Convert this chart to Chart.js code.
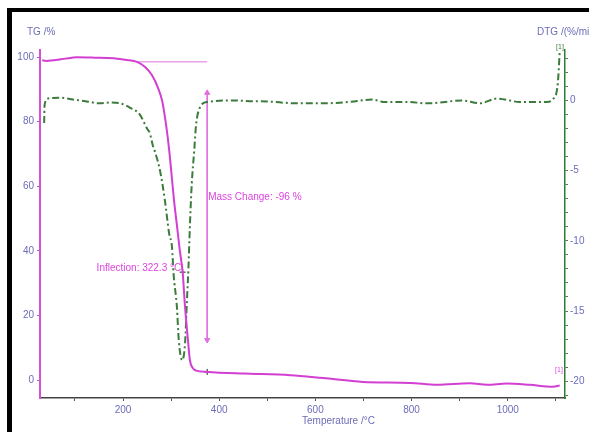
<!DOCTYPE html>
<html>
<head>
<meta charset="utf-8">
<script src="https://cdn.jsdelivr.net/npm/chart.js@4.4.0/dist/chart.umd.min.js"></script>
<style>
  body { margin: 0; background: #fff; }
  #wrap { width: 589px; height: 432px; }
</style>
</head>
<body>
<div id="wrap"><canvas id="grafico" width="589" height="432"></canvas></div>
<script>
//DATA
let tgTemp = [32, 40, 60, 80, 104, 140, 180, 208, 229, 246, 260, 273, 281, 285, 290, 296, 301, 306, 312, 318, 324, 329, 335, 339, 345, 352, 375, 450, 548, 616, 699, 797, 853, 921, 957, 998, 1046, 1094, 1108];
let tgValues = [99.0, 98.8, 99.1, 99.5, 99.9, 99.8, 99.6, 99.1, 98.5, 96.9, 94.4, 90.4, 86.7, 83.5, 78.5, 71.2, 63.5, 55.7, 48.0, 40.2, 33.4, 22.6, 12.4, 6.2, 3.7, 2.9, 2.5, 2.0, 1.5, 0.6, -0.6, -0.9, -1.5, -1.0, -1.5, -1.1, -1.5, -2.1, -1.7];

let dtgTemp = [36, 37, 44, 69, 96, 125, 152, 173, 194, 214, 235, 250, 256, 262, 266, 277, 287, 296, 302, 305, 312, 316, 323, 329, 333, 336, 339, 343, 348, 352, 360, 375, 429, 470, 499, 562, 616, 672, 718, 741, 790, 832, 907, 942, 978, 1025, 1081, 1094, 1104, 1108];
let dtgValues = [-1.6, -0.3, 0.14, 0.2, 0.07, -0.07, -0.2, -0.14, -0.2, -0.5, -1.0, -2.0, -2.35, -3.2, -3.6, -5.0, -7.1, -9.5, -10.5, -12.3, -14.7, -17.1, -18.5, -17.3, -14.2, -12.0, -9.0, -5.9, -3.6, -1.7, -0.5, -0.1, 0, -0.05, -0.07, -0.2, -0.2, -0.1, 0.07, -0.1, -0.1, -0.2, 0, -0.2, 0.14, -0.1, -0.1, 0.1, 1.2, 3.5];

let massLineTemp = [228, 375];
let massLineValue = [98.5, 98.5];
let arrowTemp = [375, 375];
let arrowValue = [88.9, 12.4];
let markerTemp = [324, 375];
let markerValue = [33.4, 2.5];

let xTickLabels = [200, 400, 600, 800, 1000];
let xMinorTicks = [100, 200, 300, 400, 500, 600, 700, 800, 900, 1000, 1100];
let tgTickLabels = [0, 20, 40, 60, 80, 100];
let dtgTickLabels = [-20, -15, -10, -5, 0];

const fuente = "'Liberation Sans', Arial, sans-serif";
const colorTexto = '#6c6cb8';
const magenta = '#d23fd2';
const verde = '#3b7b3b';

function toPoints(xs, ys) {
    return xs.map((x, i) => ({ x: x, y: ys[i] }));
}

let dtgMinorTicks = [];
for (let v = -21; v <= 3; v++) {
    dtgMinorTicks.push(v);
}

//TEXTOS Y MARCO
const decoracion = {
    id: 'decoracion',
    beforeDraw(chart) {
        const ctx = chart.ctx;
        ctx.save();
        ctx.fillStyle = '#fff';
        ctx.fillRect(0, 0, chart.width, chart.height);
        ctx.fillStyle = '#000';
        ctx.fillRect(7, 8, chart.width - 7, 4);
        ctx.fillRect(7, 8, 5, chart.height - 8);
        ctx.restore();
    },
    afterDraw(chart) {
        const ctx = chart.ctx;
        const x = chart.scales.x;
        const y = chart.scales.y;
        ctx.save();
        ctx.textBaseline = 'middle';
        ctx.font = '10px ' + fuente;
        ctx.fillStyle = colorTexto;
        ctx.textAlign = 'left';
        ctx.fillText('TG /%', 27, 32);
        ctx.fillText('DTG /(%/min)', 537, 32);
        ctx.fillText('Temperature /°C', 302, 421);

        ctx.fillStyle = '#dd44dd';
        ctx.fillText('Mass Change: -96 %', x.getPixelForValue(375) + 1, y.getPixelForValue(56.7));
        ctx.textAlign = 'right';
        ctx.fillText('Inflection: 322.3 °C', x.getPixelForValue(321), y.getPixelForValue(34.6));

        ctx.font = '7px ' + fuente;
        ctx.textAlign = 'center';
        ctx.fillStyle = verde;
        ctx.fillText('[1]', 560, 47);
        ctx.fillStyle = '#dd44dd';
        ctx.fillText('[1]', 559, 370);
        ctx.restore();
    }
};

const config = {
    type: 'line',
    data: {
        datasets: [
            {
                data: toPoints(tgTemp, tgValues),
                yAxisID: 'y',
                borderColor: magenta,
                borderWidth: 2,
                pointRadius: 0,
                cubicInterpolationMode: 'monotone'
            },
            {
                data: toPoints(dtgTemp, dtgValues),
                yAxisID: 'y2',
                borderColor: verde,
                borderWidth: 2,
                borderDash: [7, 3, 2, 3],
                pointRadius: 0,
                cubicInterpolationMode: 'monotone'
            },
            {
                data: toPoints(massLineTemp, massLineValue),
                yAxisID: 'y',
                borderColor: '#e070e0',
                borderWidth: 1,
                pointRadius: 0
            },
            {
                data: toPoints(arrowTemp, arrowValue),
                yAxisID: 'y',
                borderColor: '#e070e0',
                backgroundColor: '#e070e0',
                borderWidth: 1,
                pointStyle: 'triangle',
                pointRadius: 3,
                pointRotation: [0, 180]
            },
            {
                data: toPoints(markerTemp, markerValue),
                yAxisID: 'y',
                showLine: false,
                borderColor: '#222',
                borderWidth: 1,
                pointStyle: 'cross',
                pointRadius: 3
            }
        ]
    },
    options: {
        responsive: false,
        animation: false,
        layout: { padding: { top: 50, left: 0, right: 0, bottom: 0 } },
        plugins: {
            legend: { display: false },
            tooltip: { enabled: false }
        },
        scales: {
            x: {
                type: 'linear',
                min: 27.4,
                max: 1119,
                afterBuildTicks: (scale) => { scale.ticks = xMinorTicks.map(v => ({ value: v })); },
                afterFit: (scale) => { scale.height = 34; },
                ticks: {
                    autoSkip: false,
                    maxRotation: 0,
                    padding: 3,
                    color: colorTexto,
                    font: { family: fuente, size: 10 },
                    callback: (v) => xTickLabels.includes(v) ? v : ''
                },
                grid: { drawOnChartArea: false, tickLength: 3, color: '#555' },
                border: { color: '#444', width: 1.5 }
            },
            y: {
                position: 'left',
                min: -5.57,
                max: 102.17,
                afterBuildTicks: (scale) => { scale.ticks = tgTickLabels.map(v => ({ value: v })); },
                afterFit: (scale) => { scale.width = 40; },
                ticks: {
                    padding: 3,
                    color: colorTexto,
                    font: { family: fuente, size: 10 }
                },
                grid: { drawOnChartArea: false, tickLength: 3, color: '#a060c8' },
                border: { color: '#d94fd9', width: 2 }
            },
            y2: {
                position: 'right',
                min: -21.2,
                max: 3.6,
                afterBuildTicks: (scale) => { scale.ticks = dtgMinorTicks.map(v => ({ value: v })); },
                afterFit: (scale) => { scale.width = 24; },
                ticks: {
                    autoSkip: false,
                    padding: 2,
                    color: colorTexto,
                    font: { family: fuente, size: 10 },
                    callback: (v) => dtgTickLabels.includes(v) ? v : ''
                },
                grid: { drawOnChartArea: false, tickLength: 3, color: '#4a7a4a' },
                border: { color: '#2e7d32', width: 1.5 }
            }
        }
    },
    plugins: [decoracion]
};

new Chart(document.getElementById('grafico'), config);
</script>
</body>
</html>
